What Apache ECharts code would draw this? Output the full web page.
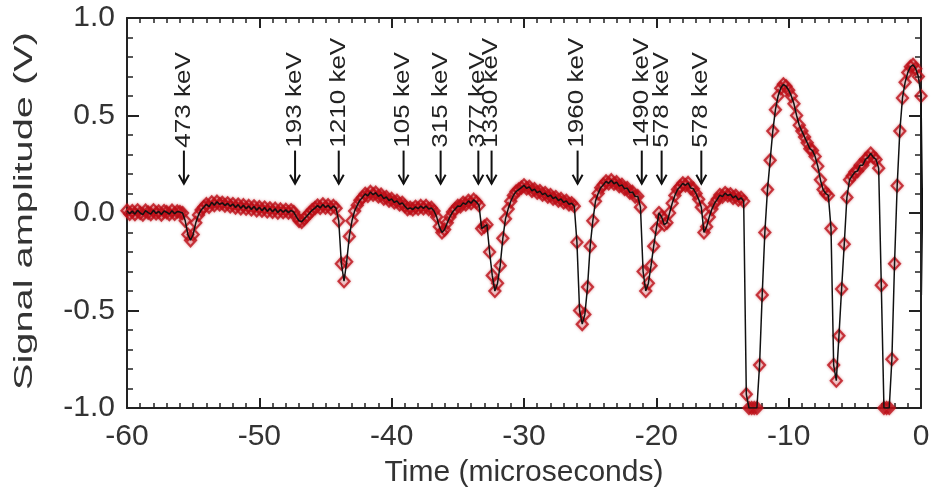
<!DOCTYPE html>
<html><head><meta charset="utf-8">
<script src="https://cdn.jsdelivr.net/npm/echarts@6/dist/echarts.min.js"></script>
<style>html,body{margin:0;padding:0;background:#fff}#c{width:933px;height:493px}</style>
</head><body><div id="c"></div>
<script>
// Digitizer trace: first sample time and sample period (microseconds)
const sampleStart = -60;
const samplePeriod = 0.2;
// Signal amplitude (V), one value per sample (noisy baseline included)
const amplitude = [
  0.012,-0.004,0.010,-0.006,0.014,0.000,-0.008,0.012,0.002,-0.006,
  0.014,-0.002,0.008,-0.008,0.010,0.004,-0.006,0.012,-0.004,0.008,
  0.005,0.0,-0.04,-0.11,-0.14,-0.11,-0.05,-0.01,0.015,0.03,
  0.045,0.032,0.055,0.040,0.058,0.044,0.052,0.038,0.050,0.034,
  0.046,0.028,0.043,0.024,0.040,0.022,0.036,0.018,0.034,0.014,
  0.030,0.012,0.028,0.008,0.024,0.006,0.022,0.002,0.018,0.004,
  0.016,0.002,0.014,0.005,-0.02,-0.04,-0.045,-0.03,-0.015,0.0,
  0.015,0.025,0.038,0.026,0.044,0.028,0.040,0.022,0.036,0.024,
  -0.04,-0.26,-0.35,-0.25,-0.12,-0.04,0.01,0.04,0.065,0.08,
  0.098,0.088,0.108,0.094,0.104,0.085,0.094,0.074,0.082,0.064,
  0.072,0.054,0.062,0.044,0.052,0.035,0.02,0.026,0.018,0.032,
  0.022,0.036,0.024,0.036,0.020,0.026,0.01,-0.02,-0.07,-0.1,
  -0.085,-0.05,-0.02,0.005,0.02,0.036,0.034,0.052,0.044,0.062,
  0.050,0.068,0.056,0.04,-0.08,-0.07,-0.06,-0.2,-0.32,-0.4,
  -0.36,-0.27,-0.13,-0.03,0.02,0.06,0.09,0.11,0.12,0.13,
  0.142,0.126,0.134,0.114,0.122,0.104,0.112,0.094,0.102,0.084,
  0.092,0.074,0.082,0.064,0.072,0.054,0.062,0.044,0.050,0.035,
  -0.15,-0.5,-0.57,-0.52,-0.38,-0.17,-0.04,0.06,0.1,0.13,
  0.145,0.162,0.152,0.168,0.150,0.158,0.138,0.144,0.124,0.128,
  0.104,0.108,0.084,0.086,0.03,-0.3,-0.4,-0.36,-0.27,-0.17,
  -0.08,0.0,-0.02,-0.06,-0.05,0.0,0.05,0.09,0.12,0.135,
  0.152,0.142,0.154,0.128,0.124,0.1,0.07,0.03,-0.1,-0.07,
  -0.02,0.02,0.05,0.07,0.092,0.084,0.102,0.09,0.096,0.078,
  0.088,0.068,0.078,0.06,-0.93,-1.0,-1.0,-1.0,-1.0,-0.78,
  -0.42,-0.1,0.12,0.27,0.42,0.53,0.6,0.64,0.66,0.65,
  0.63,0.6,0.56,0.5,0.45,0.42,0.39,0.36,0.33,0.32,
  0.29,0.24,0.17,0.12,0.1,0.09,-0.08,-0.78,-0.86,-0.63,
  -0.39,-0.16,0.08,0.17,0.19,0.21,0.215,0.245,0.245,0.275,
  0.285,0.305,0.285,0.275,0.23,-0.37,-1.0,-1.0,-1.0,-0.75,
  -0.26,0.14,0.42,0.59,0.67,0.72,0.75,0.76,0.74,0.7,
  0.6,-0.42
];
// Annotated pulses: arrow times (microseconds) and energies
const peakTimes = [-55.7, -47.3, -44.0, -39.1, -36.3, -33.45, -32.45, -25.95, -21.1, -19.6, -16.6];
const peakLabels = ['473 keV','193 keV','1210 keV','105 keV','315 keV','377 keV','1330 keV','1960 keV','1490 keV','578 keV','578 keV'];
const xTickValues = [-60, -50, -40, -30, -20, -10, 0];
const yTickValues = [-1.0, -0.5, 0.0, 0.5, 1.0];

const trace = amplitude.map((v, i) => [+(sampleStart + i * samplePeriod).toFixed(2), v]);
const FONT = "'Liberation Sans', Arial, sans-serif";

const chart = echarts.init(document.getElementById('c'), null, {renderer: 'canvas'});
const axisLine = {show: true, onZero: false, lineStyle: {color: '#222', width: 2}};
const xMin = xTickValues[0], xMax = xTickValues[xTickValues.length - 1];
const yMin = yTickValues[0], yMax = yTickValues[yTickValues.length - 1];
const xTick = {inside: true, length: 10, lineStyle: {color: '#222', width: 2}};
const xMinor = {show: true, splitNumber: 10, length: 5, lineStyle: {color: '#222', width: 1.5}};
const yTick = {inside: true, length: 12, lineStyle: {color: '#222', width: 2}};
const yMinor = {show: true, splitNumber: 5, length: 6, lineStyle: {color: '#222', width: 1.5}};
chart.setOption({
  animation: false,
  backgroundColor: '#fff',
  grid: {left: 127, right: 12, top: 18, bottom: 85, containLabel: false},
  xAxis: [{
    type: 'value', min: xMin, max: xMax, interval: 10, position: 'bottom',
    axisLine: axisLine, axisTick: xTick, minorTick: xMinor,
    splitLine: {show: false}, minorSplitLine: {show: false},
    axisLabel: {fontSize: 30, color: '#333', margin: 14, fontFamily: FONT, formatter: v => String(v)},
    name: 'Time (microseconds)', nameLocation: 'middle', nameGap: 50,
    nameTextStyle: {fontSize: 30, color: '#333', fontFamily: FONT}
  }, {
    type: 'value', min: xMin, max: xMax, interval: 10, position: 'top',
    axisLine: axisLine, axisTick: xTick, minorTick: xMinor,
    splitLine: {show: false}, axisLabel: {show: false}
  }],
  yAxis: [{
    type: 'value', min: yMin, max: yMax, interval: 0.5, position: 'left',
    axisLine: axisLine, axisTick: yTick, minorTick: yMinor,
    splitLine: {show: false}, minorSplitLine: {show: false},
    axisLabel: {fontSize: 30, color: '#333', margin: 12, fontFamily: FONT, formatter: v => v.toFixed(1)}
  }, {
    type: 'value', min: yMin, max: yMax, interval: 0.5, position: 'right',
    axisLine: axisLine, axisTick: yTick, minorTick: yMinor,
    splitLine: {show: false}, axisLabel: {show: false}
  }],
  graphic: [{
    type: 'text', x: 25, y: 211, rotation: Math.PI / 2, scaleX: 1.42, scaleY: 0.95,
    style: {text: 'Signal amplitude (V)', fontSize: 28, fill: '#333', fontFamily: FONT, align: 'center', verticalAlign: 'middle'}
  }],
  series: [{
    type: 'scatter', data: trace, symbol: 'diamond', symbolSize: [11, 12],
    itemStyle: {color: 'rgba(190,18,26,0.16)', borderColor: '#bd121a', borderWidth: 2.2,
                shadowColor: 'rgba(190,18,26,0.5)', shadowBlur: 3},
    z: 2, clip: true
  }, {
    type: 'line', data: trace, showSymbol: false, symbol: 'none',
    lineStyle: {color: '#111', width: 1.5}, z: 3, clip: true
  }, {
    type: 'custom', data: peakTimes.map(t => [t, 0]), encode: {x: 0, y: 1}, clip: false, z: 4,
    renderItem: (params, api) => {
      const t = api.value(0);
      const tip = api.coord([t, 0.15]);
      const tail = api.coord([t, 0.32]);
      const txt = api.coord([t, 0.335]);
      return {type: 'group', children: [
        {type: 'line', shape: {x1: tip[0], y1: tail[1], x2: tip[0], y2: tip[1]}, style: {stroke: '#111', lineWidth: 2}},
        {type: 'polyline', shape: {points: [[tip[0] - 5, tip[1] - 9], [tip[0], tip[1]], [tip[0] + 5, tip[1] - 9]]}, style: {stroke: '#111', lineWidth: 2, fill: null}},
        {type: 'text', x: txt[0], y: txt[1], rotation: Math.PI / 2, scaleY: 0.82,
         style: {text: peakLabels[params.dataIndex], x: 0, y: 0, align: 'left', verticalAlign: 'middle', fontSize: 26, fill: '#222', fontFamily: FONT}}
      ]};
    }
  }]
});
</script></body></html>
